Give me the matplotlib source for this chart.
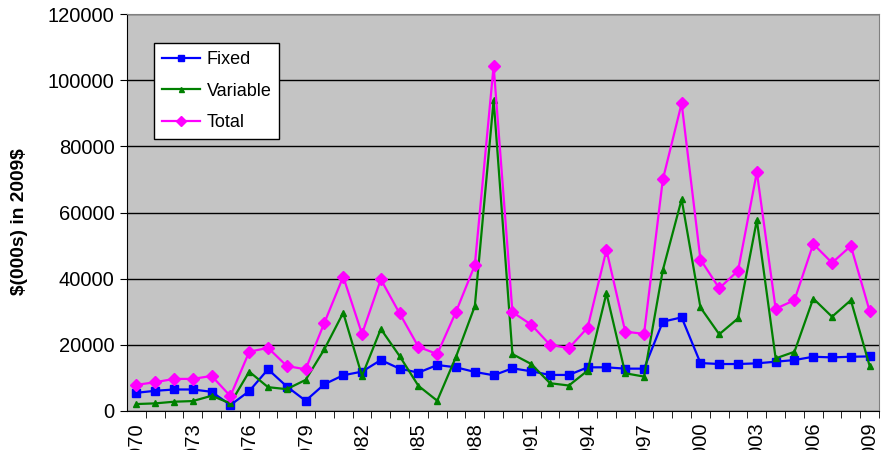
import matplotlib.pyplot as plt
from matplotlib.ticker import FixedLocator

# Annual cost series, $(000s) in 2009 dollars
years = list(range(1970, 2010))
fixed = [5500, 6100, 6500, 6500, 5800, 1800, 6000, 12600, 7400, 3100,
         8100, 10800, 11900, 15400, 12800, 11600, 13900, 13200, 11800, 10800,
         12900, 12000, 10900, 10900, 13200, 13200, 12800, 12800, 27000, 28300,
         14500, 14200, 14200, 14400, 14900, 15400, 16400, 16200, 16400, 16500]
variable = [2100, 2300, 2800, 3000, 4600, 2300, 11900, 7200, 6600, 9400,
            18700, 29700, 10600, 24800, 16600, 7600, 3100, 16400, 31700, 94000,
            17200, 14200, 8400, 7700, 12200, 35600, 11400, 10400, 42600, 64000,
            31300, 23200, 28000, 57700, 15900, 17900, 34000, 28500, 33500, 13600]
total = [7900, 8700, 9700, 9700, 10600, 4500, 17900, 19100, 13600, 12600,
         26700, 40600, 23300, 39800, 29500, 19400, 17200, 30000, 44100, 104300,
         29900, 26100, 20000, 19000, 25200, 48700, 24000, 23300, 70000, 93000,
         45800, 37100, 42400, 72200, 30900, 33500, 50500, 44800, 49900, 30200]
label_years = list(range(1970, 2010, 3))

plt.rcParams['font.family'] = ['Liberation Sans', 'DejaVu Sans']

fig = plt.figure(figsize=(8.9, 4.5), dpi=100)
ax = fig.add_axes([0.1427, 0.0867, 0.845, 0.882])
ax.set_facecolor('#c4c4c4')

ax.plot(years, fixed, color='#0000ff', lw=1.6, marker='s', ms=5.5,
        label='Fixed', zorder=3)
ax.plot(years, variable, color='#008000', lw=1.6, marker='^', ms=4.5,
        label='Variable', zorder=4)
ax.plot(years, total, color='#ff00ff', lw=1.6, marker='D', ms=6,
        label='Total', zorder=5)

ax.set_xlim(1969.5, 2009.5)
ax.set_ylim(0, 120000)
ax.set_yticks(range(0, 120001, 20000))
ax.yaxis.grid(True, color='black', lw=1)
ax.set_axisbelow(True)

# labels every third year, tick marks between categories
ax.xaxis.set_major_locator(FixedLocator(label_years))
ax.xaxis.set_minor_locator(FixedLocator([y - 0.5 for y in range(1971, 2011)]))
ax.tick_params(axis='x', which='major', length=0, pad=8, labelsize=14.5,
               labelrotation=90)
ax.tick_params(axis='x', which='minor', length=5, color='black')
ax.tick_params(axis='y', length=5, labelsize=14.5, pad=4)

for side in ['top', 'right']:
    ax.spines[side].set_color('#808080')
for side in ['left', 'bottom']:
    ax.spines[side].set_color('black')

ax.set_ylabel('\\$(000s) in 2009\\$', fontsize=13.8, fontweight='bold')
ax.yaxis.set_label_coords(-0.132, 0.476)

leg = ax.legend(loc='upper left', bbox_to_anchor=(0.036, 0.927), borderaxespad=0,
                fontsize=13, frameon=True, fancybox=False, edgecolor='black',
                handlelength=2.1, handletextpad=0.35, labelspacing=0.8,
                borderpad=0.45, markerscale=0.8)
leg.get_frame().set_linewidth(1)
leg.get_frame().set_facecolor('white')
leg.get_frame().set_alpha(1)

fig.savefig('out.png', dpi=100)
